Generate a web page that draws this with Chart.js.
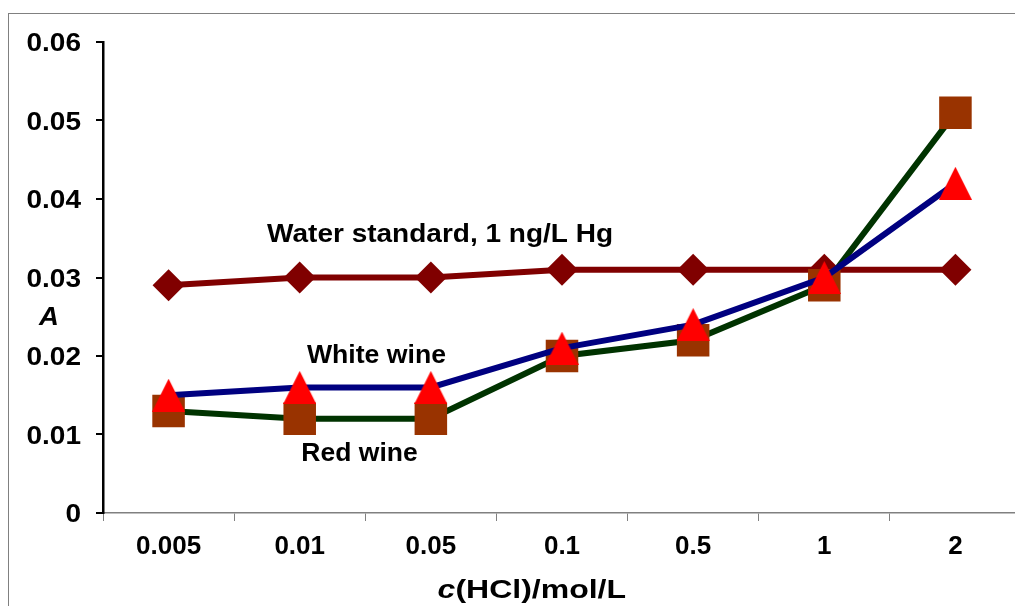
<!DOCTYPE html>
<html><head><meta charset="utf-8">
<script src="https://cdn.jsdelivr.net/npm/chart.js@4.4.0/dist/chart.umd.min.js"></script>
<style>
html,body{margin:0;padding:0;overflow:hidden;background:#fff;width:1015px;height:606px}
#wrap{position:absolute;left:0;top:0;width:1021px;height:606px}
canvas{display:block}
</style>
</head><body><div id="wrap"><canvas id="c" width="1021" height="606"></canvas></div>
<script>
const categories = ['0.005','0.01','0.05','0.1','0.5','1','2'];
const waterStandard = [0.029, 0.030, 0.030, 0.031, 0.031, 0.031, 0.031];
const whiteWine = [0.015, 0.016, 0.016, 0.021, 0.024, 0.030, 0.042];
const redWine = [0.013, 0.012, 0.012, 0.020, 0.022, 0.029, 0.051];
const yTicks = [0, 0.01, 0.02, 0.03, 0.04, 0.05, 0.06];
const yTickLabels = ['0', '0.01', '0.02', '0.03', '0.04', '0.05', '0.06'];
const labelWater = 'Water standard, 1 ng/L Hg';
const labelWhite = 'White wine';
const labelRed = 'Red wine';
const yTitle = 'A';
const xTitleItalic = 'c';
const xTitleRest = '(HCl)/mol/L';

const FONT = '"Liberation Sans", Arial, sans-serif';

function triangleImage(w, h, color) {
  const c = document.createElement('canvas');
  c.width = w; c.height = h;
  const g = c.getContext('2d');
  g.fillStyle = color;
  g.beginPath();
  g.moveTo(w / 2, 0);
  g.lineTo(w, h);
  g.lineTo(0, h);
  g.closePath();
  g.fill();
  return c;
}
const tri = triangleImage(33, 33, '#FF0000');

function stretchText(ctx, text, x, y, sx, align) {
  ctx.save();
  ctx.translate(x, y);
  ctx.scale(sx, 1);
  ctx.textAlign = align || 'center';
  ctx.fillText(text, 0, 0);
  ctx.restore();
}

const decor = {
  id: 'decor',
  beforeDraw(chart) {
    const ctx = chart.ctx;
    ctx.save();
    ctx.strokeStyle = '#808080';
    ctx.lineWidth = 1;
    ctx.strokeRect(8.5, 13.5, 3000, 3000);
    ctx.restore();
  },
  afterDraw(chart) {
    const ctx = chart.ctx;
    const xs = chart.scales.x, ys = chart.scales.y;
    ctx.save();
    ctx.fillStyle = '#000';
    ctx.textBaseline = 'alphabetic';
    // y tick labels (drawn at the scale's tick positions)
    ctx.font = 'bold 25px ' + FONT;
    yTicks.forEach((v, i) => {
      stretchText(ctx, yTickLabels[i], chart.chartArea.left - 22, ys.getPixelForValue(v) + 9, 1.12, 'right');
    });
    stretchText(ctx, labelWater, xs.getPixelForValue(2.07), ys.getPixelForValue(0.0345), 1.12);
    stretchText(ctx, labelWhite, xs.getPixelForValue(1.585), ys.getPixelForValue(0.0191), 1.065);
    stretchText(ctx, labelRed, xs.getPixelForValue(1.456), ys.getPixelForValue(0.0066), 1.06);
    ctx.font = 'italic bold 25px ' + FONT;
    stretchText(ctx, yTitle, chart.chartArea.left - 54, ys.getPixelForValue(0.0239), 1.1);
    // x title
    const sx = 1.28;
    const cx = xs.getPixelForValue(2.77);
    const by = chart.chartArea.bottom + 85;
    ctx.font = 'italic bold 25px ' + FONT;
    const w1 = ctx.measureText(xTitleItalic).width * sx;
    ctx.font = 'bold 25px ' + FONT;
    const w2 = ctx.measureText(xTitleRest).width * sx;
    const start = cx - (w1 + w2) / 2;
    ctx.font = 'italic bold 25px ' + FONT;
    stretchText(ctx, xTitleItalic, start, by, sx, 'left');
    ctx.font = 'bold 25px ' + FONT;
    stretchText(ctx, xTitleRest, start + w1, by, sx, 'left');
    ctx.restore();
  }
};

new Chart(document.getElementById('c'), {
  type: 'line',
  data: {
    labels: categories,
    datasets: [
      {
        label: labelWhite,
        data: whiteWine,
        borderColor: '#000080',
        borderWidth: 6,
        pointStyle: tri,
        pointBorderWidth: 0,
        pointBackgroundColor: '#FF0000',
        pointHoverRadius: 0
      },
      {
        label: labelRed,
        data: redWine,
        borderColor: '#003300',
        borderWidth: 6,
        pointStyle: 'rect',
        pointRadius: 23,
        pointBorderWidth: 0,
        pointBorderColor: '#993300',
        pointBackgroundColor: '#993300'
      },
      {
        label: labelWater,
        data: waterStandard,
        borderColor: '#800000',
        borderWidth: 6,
        pointStyle: 'rectRot',
        pointRadius: 16,
        pointBorderWidth: 0,
        pointBorderColor: '#800000',
        pointBackgroundColor: '#800000'
      }
    ]
  },
  options: {
    responsive: false,
    animation: false,
    devicePixelRatio: 1,
    events: [],
    layout: { autoPadding: false, padding: { left: 0, top: 42, right: 0, bottom: 0 } },
    plugins: { legend: { display: false }, tooltip: { enabled: false } },
    elements: { line: { tension: 0 } },
    scales: {
      x: {
        type: 'category',
        offset: true,
        grid: { offset: true, drawOnChartArea: false, drawTicks: true, tickLength: 8, color: '#808080', lineWidth: 1 },
        border: { display: true, color: '#808080', width: 1.5 },
        ticks: { color: '#000', font: { family: FONT, size: 26, weight: 'bold' }, padding: 10, maxRotation: 0, autoSkip: false },
        afterFit(s) { s.height = 93; s.paddingLeft = 0; s.paddingRight = 0; }
      },
      y: {
        min: 0, max: 0.06,
        afterBuildTicks(s) { s.ticks = yTicks.map(v => ({ value: v })); },
        grid: { drawOnChartArea: false, drawTicks: true, tickLength: 7, color: '#000', lineWidth: 2 },
        border: { display: true, color: '#000', width: 2.5 },
        ticks: { display: false },
        afterFit(s) { s.width = 103; s.paddingTop = 0; s.paddingBottom = 0; }
      }
    }
  },
  plugins: [decor]
});
</script>
</body></html>
